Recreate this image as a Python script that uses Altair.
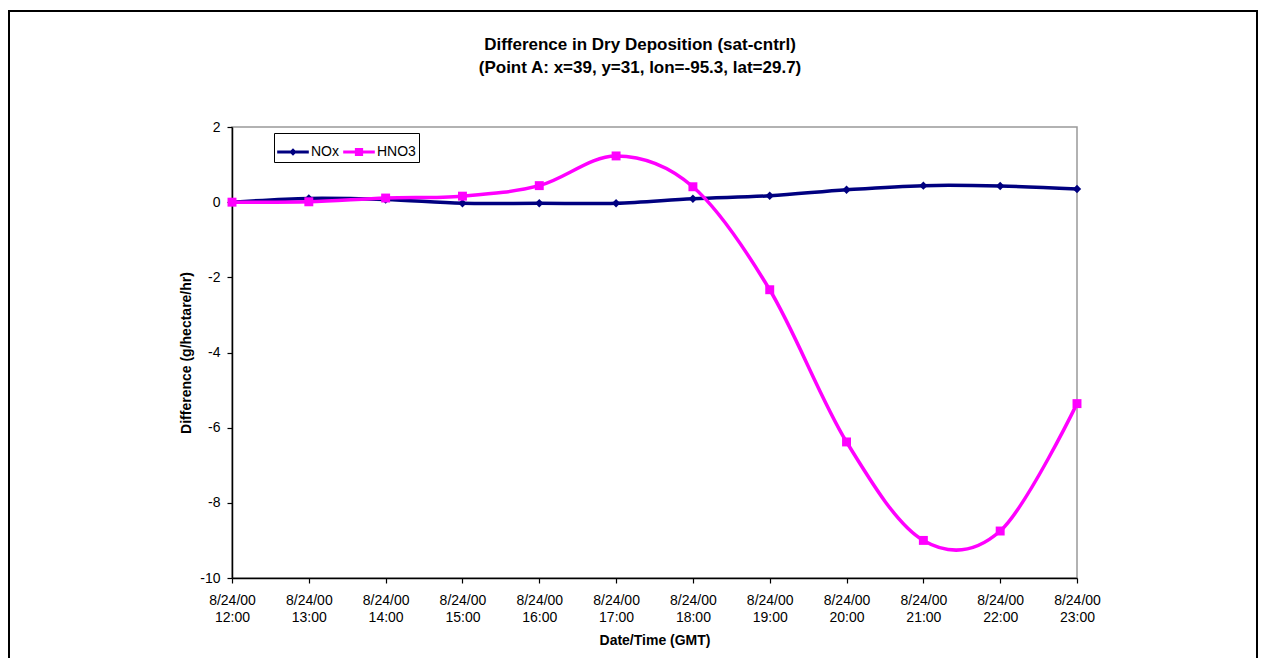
import altair as alt
import pandas as pd

# ---- data ----
times = ["8/24/00 12:00", "8/24/00 13:00", "8/24/00 14:00", "8/24/00 15:00",
         "8/24/00 16:00", "8/24/00 17:00", "8/24/00 18:00", "8/24/00 19:00",
         "8/24/00 20:00", "8/24/00 21:00", "8/24/00 22:00", "8/24/00 23:00"]
nox = [0.00, 0.10, 0.07, -0.03, -0.03, -0.03, 0.09, 0.17, 0.33, 0.44, 0.43, 0.35]
hno3 = [0.00, 0.01, 0.11, 0.16, 0.44, 1.23, 0.41, -2.33, -6.38, -9.00, -8.75, -5.36]
series_names = ["NOx", "HNO3"]
series_colors = ["#000080", "#FF00FF"]
y_ticks = [-10, -8, -6, -4, -2, 0, 2]

title_lines = ["Difference in Dry Deposition (sat-cntrl)",
               "(Point A: x=39, y=31, lon=-95.3, lat=29.7)"]
x_title = "Date/Time (GMT)"
y_title = "Difference (g/hectare/hr)"

rows = []
for name, vals in zip(series_names, [nox, hno3]):
    for t, v in zip(times, vals):
        rows.append({"time": t, "series": name, "value": v})
df = pd.DataFrame(rows)

FONT = "Liberation Sans"

x_enc = alt.X("time:N", sort=times,
              scale=alt.Scale(type="point", padding=0),
              axis=alt.Axis(labelAngle=0, labelExpr="split(datum.label, ' ')",
                            labelLineHeight=17, labelPadding=10, tickSize=5,
                            titlePadding=9),
              title=x_title)
y_enc = alt.Y("value:Q",
              scale=alt.Scale(domain=[-10, 2], nice=False, zero=False),
              axis=alt.Axis(values=y_ticks, labelExpr="'' + datum.value",
                            tickSize=5, labelPadding=7, titlePadding=6),
              title=y_title)
color_scale = alt.Scale(domain=series_names, range=series_colors)

# legend symbols: line segment with the series marker
legend_paths = [
    "M-1,-0.1H1V0.1H-1Z M-0.24,0L0,-0.24L0.24,0L0,0.24Z",
    "M-1,-0.1H1V0.1H-1Z M-0.26,-0.26H0.26V0.26H-0.26Z",
]
legend_def = dict(orient="none", legendX=42, legendY=6, direction="horizontal",
                  title=None, labelFont=FONT, labelFontSize=14, labelColor="black",
                  symbolSize=1000, symbolOpacity=1, symbolStrokeWidth=0,
                  strokeColor="black", fillColor="white", padding=3,
                  columnPadding=4, labelOffset=2, cornerRadius=0)

base = alt.Chart(df)

layers = []
# outer chart frame
frame = alt.Chart(pd.DataFrame({"k": [0]})).mark_rect(
    fillOpacity=0, stroke="black", strokeWidth=2
).encode(x=alt.value(-223), x2=alt.value(1025), y=alt.value(-116), y2=alt.value(560))
layers.append(frame)

# title lines as text
for line, ypos in zip(title_lines, [-82, -59]):
    layers.append(
        alt.Chart(pd.DataFrame({"line": [line]})).mark_text(
            font=FONT, fontSize=17, fontWeight="bold", color="black",
            align="center", baseline="middle"
        ).encode(text="line:N", x=alt.value(408), y=alt.value(ypos))
    )

shapes = {"NOx": ("diamond", 70), "HNO3": ("square", 80)}
for name, col in zip(series_names, series_colors):
    sub = base.transform_filter(alt.datum.series == name)
    layers.append(sub.mark_line(interpolate="cardinal", tension=0, strokeWidth=3.5, color=col)
                  .encode(x=x_enc, y=y_enc))
    shp, sz = shapes[name]
    layers.append(sub.mark_point(shape=shp, filled=True, size=sz, opacity=1, color=col)
                  .encode(x=x_enc, y=y_enc))

legend_layer = base.mark_point(filled=True, opacity=0).encode(
    x=x_enc, y=y_enc,
    color=alt.Color("series:N", scale=color_scale, legend=alt.Legend(**legend_def)),
    shape=alt.Shape("series:N", scale=alt.Scale(domain=series_names, range=legend_paths),
                    legend=alt.Legend(**legend_def)),
)
layers.append(legend_layer)

chart = alt.layer(*layers).properties(
    width=845, height=451,
    padding={"left": 224, "top": 119, "right": 182, "bottom": 80},
    autosize=alt.AutoSizeParams(type="none"),
    background="white",
).configure_view(
    stroke="#999999", strokeWidth=1.5
).configure_axis(
    labelFont=FONT, labelFontSize=14, labelColor="black",
    titleFont=FONT, titleFontSize=14, titleFontWeight="bold", titleColor="black",
    domainColor="black", domainWidth=1.5, tickColor="black", tickWidth=1.2, grid=False,
)

chart.save("out.html", embed_options={"renderer": "svg", "actions": False})
